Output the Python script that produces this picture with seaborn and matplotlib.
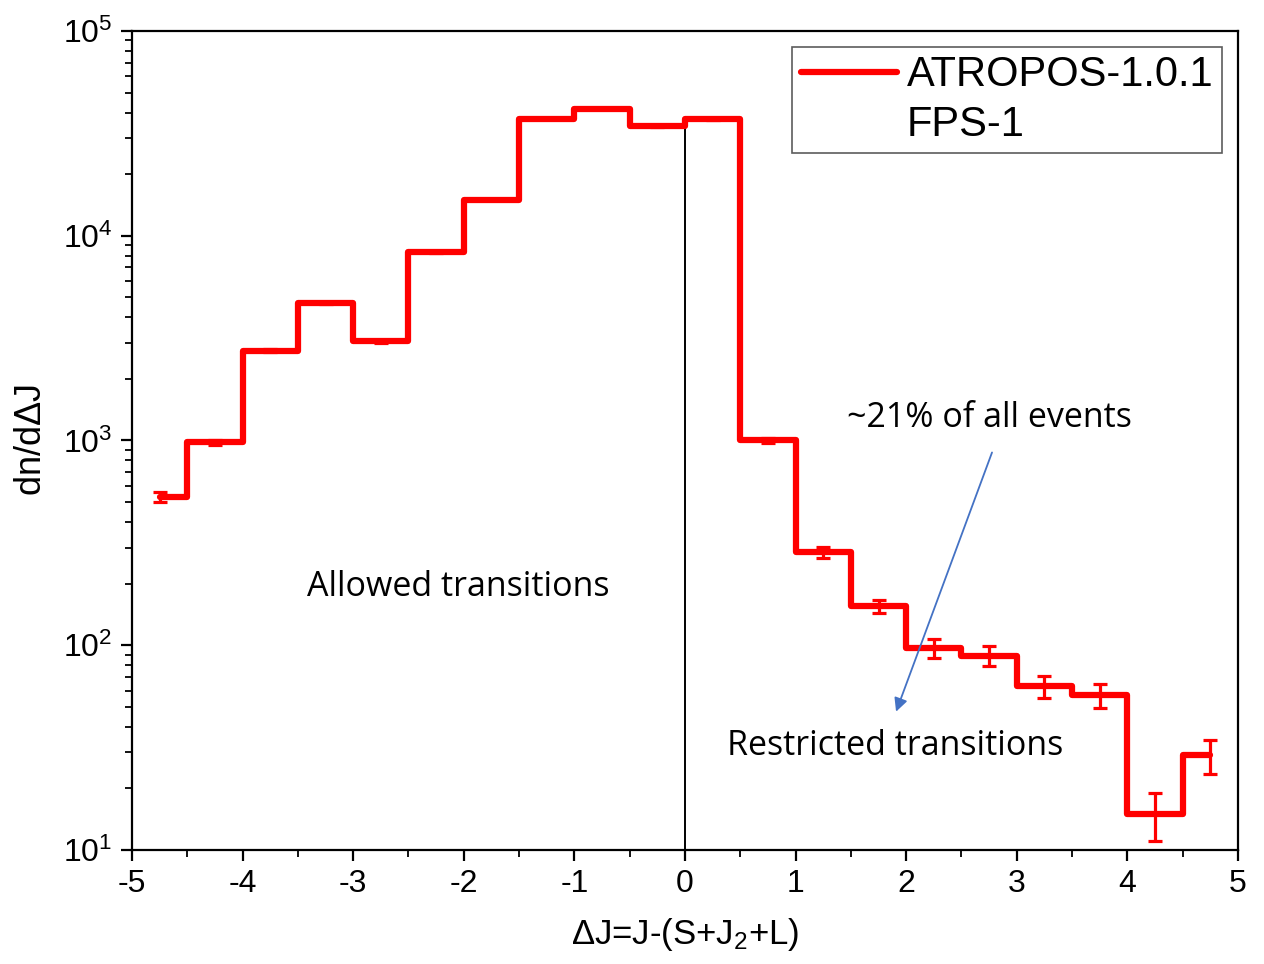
import matplotlib
matplotlib.use("Agg")
import matplotlib.pyplot as plt
import seaborn as sns
import pandas as pd
import numpy as np
from matplotlib.lines import Line2D
from matplotlib.ticker import LogLocator, MultipleLocator

# ---- data ----
bin_centers = [-4.75, -4.25, -3.75, -3.25, -2.75, -2.25, -1.75, -1.25, -0.75, -0.25,
               0.25, 0.75, 1.25, 1.75, 2.25, 2.75, 3.25, 3.75, 4.25, 4.75]
counts = [530, 980, 2750, 4700, 3050, 8300, 15000, 37200, 41800, 34200,
          37000, 1000, 285, 155, 97, 89, 63, 57, 15, 29]
errors = [30, 25, 40, 60, 40, 90, 120, 200, 200, 180,
          190, 25, 17, 12, 10, 10, 8, 7.5, 4, 5.5]
series_label = "ATROPOS-1.0.1"
series_label2 = "FPS-1"
x_ticks = [-5, -4, -3, -2, -1, 0, 1, 2, 3, 4, 5]
divider_x = 0
divider_top = 34200
txt_allowed = "Allowed transitions"
txt_pct = "~21% of all events"
txt_restricted = "Restricted transitions"

df = pd.DataFrame({"dJ": bin_centers, "n": counts, "err": errors})

sns.set_style("ticks")
plt.rcParams["font.family"] = ["Liberation Sans", "DejaVu Sans"]
plt.rcParams["mathtext.default"] = "regular"
plt.rcParams["text.color"] = "black"
plt.rcParams["axes.labelcolor"] = "black"
plt.rcParams["xtick.color"] = "black"
plt.rcParams["ytick.color"] = "black"

fig = plt.figure(figsize=(12.64, 9.64), dpi=100)
ax = fig.add_axes([0.1044, 0.1183, 0.875, 0.8495])

red = "#ff0000"
sns.lineplot(data=df, x="dJ", y="n", ax=ax, color=red, linewidth=4.5,
             drawstyle="steps-mid", legend=False, estimator=None)
ax.errorbar(df["dJ"], df["n"], yerr=df["err"], fmt="none", ecolor=red,
            elinewidth=2.3, capsize=5, capthick=2.3)

ax.vlines(divider_x, 10, divider_top, color="black", linewidth=1.4, zorder=1)

ax.set_yscale("log")
ax.set_ylim(10, 1e5)
ax.set_xlim(-5, 5)
ax.set_xticks(x_ticks)
ax.set_xticklabels([str(t) for t in x_ticks])
ax.xaxis.set_minor_locator(MultipleLocator(0.5))
ax.yaxis.set_major_locator(LogLocator(base=10))
ax.yaxis.set_minor_locator(LogLocator(base=10, subs=np.arange(2, 10)))

for s in ax.spines.values():
    s.set_linewidth(1.6)
    s.set_color("black")
ax.tick_params(axis="both", which="major", direction="out", length=8, width=1.6,
               labelsize=23, colors="black", pad=6)
ax.tick_params(axis="both", which="minor", direction="out", length=5, width=1.3)
ax.tick_params(top=False, right=False, which="both")

ax.set_xlabel(r"$\Delta$J=J-(S+J$_2$+L)", fontsize=25, labelpad=12, color="black")
ax.set_ylabel(r"dn/d$\Delta$J", fontsize=26, labelpad=10, color="black")

# annotations
afont = ["Open Sans", "DejaVu Sans"]
ax.text(-2.05, 192, txt_allowed, fontsize=24.5, family=afont, ha="center",
        va="center", color="black")
ax.text(1.465, 1290, txt_pct, fontsize=24.5, family=afont, ha="left",
        va="center", color="black")
ax.text(0.38, 32.2, txt_restricted, fontsize=24.5, family=afont, ha="left",
        va="center", color="black")
ax.annotate("", xy=(1.9, 46), xytext=(2.785, 900),
            arrowprops=dict(arrowstyle="-|>", color="#4472C4", lw=1.3,
                            mutation_scale=20))

handles = [Line2D([0], [0], color=red, linewidth=4.5, solid_capstyle="round"),
           Line2D([0], [0], color="none")]
leg = ax.legend(handles, [series_label, series_label2], loc="upper right",
                bbox_to_anchor=(0.9855, 0.9805), fontsize=30, frameon=True,
                fancybox=False, edgecolor="#333333", handlelength=2.3,
                handletextpad=0.25, labelspacing=0.22, borderpad=0.2,
                borderaxespad=0)
for t in leg.get_texts():
    t.set_color("black")
leg.get_frame().set_linewidth(1.2)

fig.savefig("out.png", dpi=100)
